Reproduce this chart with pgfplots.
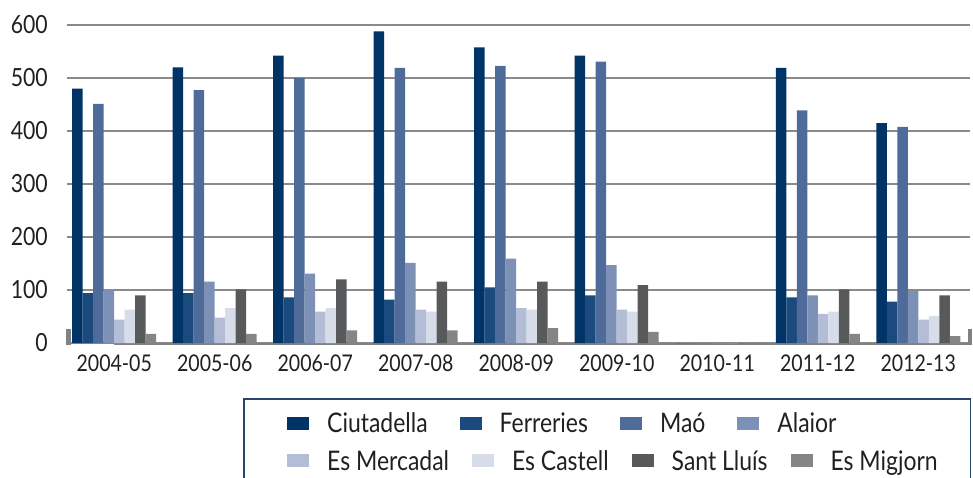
\documentclass[border=0pt]{standalone}
\usepackage{fontspec}
\setmainfont{Lato}[FakeStretch=0.85]
\usepackage{pgfplots}
\pgfplotsset{compat=1.18}

\definecolor{c1}{RGB}{0,51,102}
\definecolor{c2}{RGB}{27,74,126}
\definecolor{c3}{RGB}{78,107,153}
\definecolor{c4}{RGB}{125,145,183}
\definecolor{c5}{RGB}{179,189,213}
\definecolor{c6}{RGB}{214,220,232}
\definecolor{c7}{RGB}{88,89,91}
\definecolor{c8}{RGB}{132,133,135}
\definecolor{txt}{RGB}{35,31,32}
\definecolor{gridc}{RGB}{138,138,138}
\definecolor{floorc}{RGB}{130,130,132}
\definecolor{lborder}{RGB}{38,68,108}

\pgfplotsset{
  commonaxis/.style={scale only axis, width=903pt, height=318pt,
    at={(67pt,134pt)}, anchor=south west,
    xmin=-0.47, xmax=8.515, ymin=0, ymax=600},
}

\begin{document}
\begin{tikzpicture}
\useasboundingbox (0,0) rectangle (973pt,477pt);

\begin{axis}[commonaxis,
  ybar=0pt, bar width=10.5pt,
  axis line style={draw=none},
  major tick length=0pt,
  ymajorgrids, grid style={gridc, line width=1.2pt},
  ytick={0,100,...,600},
  xtick={0,...,8},
  xticklabels={2004-05,2005-06,2006-07,2007-08,2008-09,2009-10,2010-11,2011-12,2012-13},
  /pgf/number format/assume math mode=true,
  yticklabel style={font=\fontsize{25}{25}\selectfont, text=txt, anchor=east, inner sep=0pt, xshift=-19pt},
  xticklabel style={font=\fontsize{23}{23}\selectfont, text=txt, anchor=north, inner sep=0pt, yshift=-12pt},
  legend image code/.code={\fill[#1] (0pt,-6.5pt) rectangle (22pt,6.5pt);},
  legend style={draw=none, fill=none, at={(0.2436,-0.2516)}, anchor=west, inner sep=0pt,
    font=\fontsize{27}{27}\selectfont, text=txt, legend columns=4,
    nodes={inner sep=0pt},
    /tikz/every odd column/.append style={column sep=18pt},
    /tikz/every even column/.append style={column sep=32pt}},
  legend cell align=left,
  clip=false,
]
\fill[floorc] (rel axis cs:0,0) ++(0,-2pt) rectangle (rel axis cs:1,0);
\fill[floorc] (rel axis cs:0,0) ++(-1pt,-2pt) rectangle ++(4.5pt,16pt);
\fill[floorc] (rel axis cs:1,0) ++(-2.5pt,-2pt) rectangle ++(4.5pt,16pt);

\addplot[fill=c1, draw=none] coordinates {(0,480) (1,520) (2,542) (3,588) (4,558) (5,542) (6,0) (7,519) (8,415)};
\addplot[fill=c2, draw=none] coordinates {(0,94) (1,94) (2,86) (3,82) (4,105) (5,90) (6,0) (7,86) (8,78)};
\addplot[fill=c3, draw=none] coordinates {(0,451) (1,477) (2,500) (3,519) (4,523) (5,531) (6,0) (7,439) (8,408)};
\addplot[fill=c4, draw=none] coordinates {(0,101) (1,116) (2,131) (3,151) (4,159) (5,147) (6,0) (7,90) (8,98)};
\addplot[fill=c5, draw=none] coordinates {(0,44) (1,48) (2,59) (3,63) (4,66) (5,63) (6,0) (7,55) (8,44)};
\addplot[fill=c6, draw=none] coordinates {(0,63) (1,66) (2,66) (3,59) (4,63) (5,59) (6,0) (7,59) (8,51)};
\addplot[fill=c7, draw=none] coordinates {(0,90) (1,101) (2,120) (3,116) (4,116) (5,109) (6,0) (7,101) (8,90)};
\addplot[fill=c8, draw=none] coordinates {(0,17) (1,17) (2,24) (3,24) (4,28) (5,21) (6,0) (7,17) (8,13)};
\legend{Ciutadella, Ferreries, Maó, Alaior}
\end{axis}

\begin{axis}[commonaxis, hide axis,
  legend image code/.code={\fill[#1] (0pt,-6.5pt) rectangle (22pt,6.5pt);},
  legend style={draw=none, fill=none, at={(0.2436,-0.371)}, anchor=west, inner sep=0pt,
    font=\fontsize{27}{27}\selectfont, text=txt, legend columns=4,
    nodes={inner sep=0pt},
    /tikz/every odd column/.append style={column sep=18pt},
    /tikz/every even column/.append style={column sep=23pt}},
  legend cell align=left,
]
\addlegendimage{fill=c5, draw=none}
\addlegendimage{fill=c6, draw=none}
\addlegendimage{fill=c7, draw=none}
\addlegendimage{fill=c8, draw=none}
\legend{Es Mercadal, Es Castell, Sant Lluís, Es Migjorn}
\end{axis}

\draw[lborder, line width=1.3pt] (244pt,78pt) rectangle (970.5pt,-10pt);
\end{tikzpicture}
\end{document}
